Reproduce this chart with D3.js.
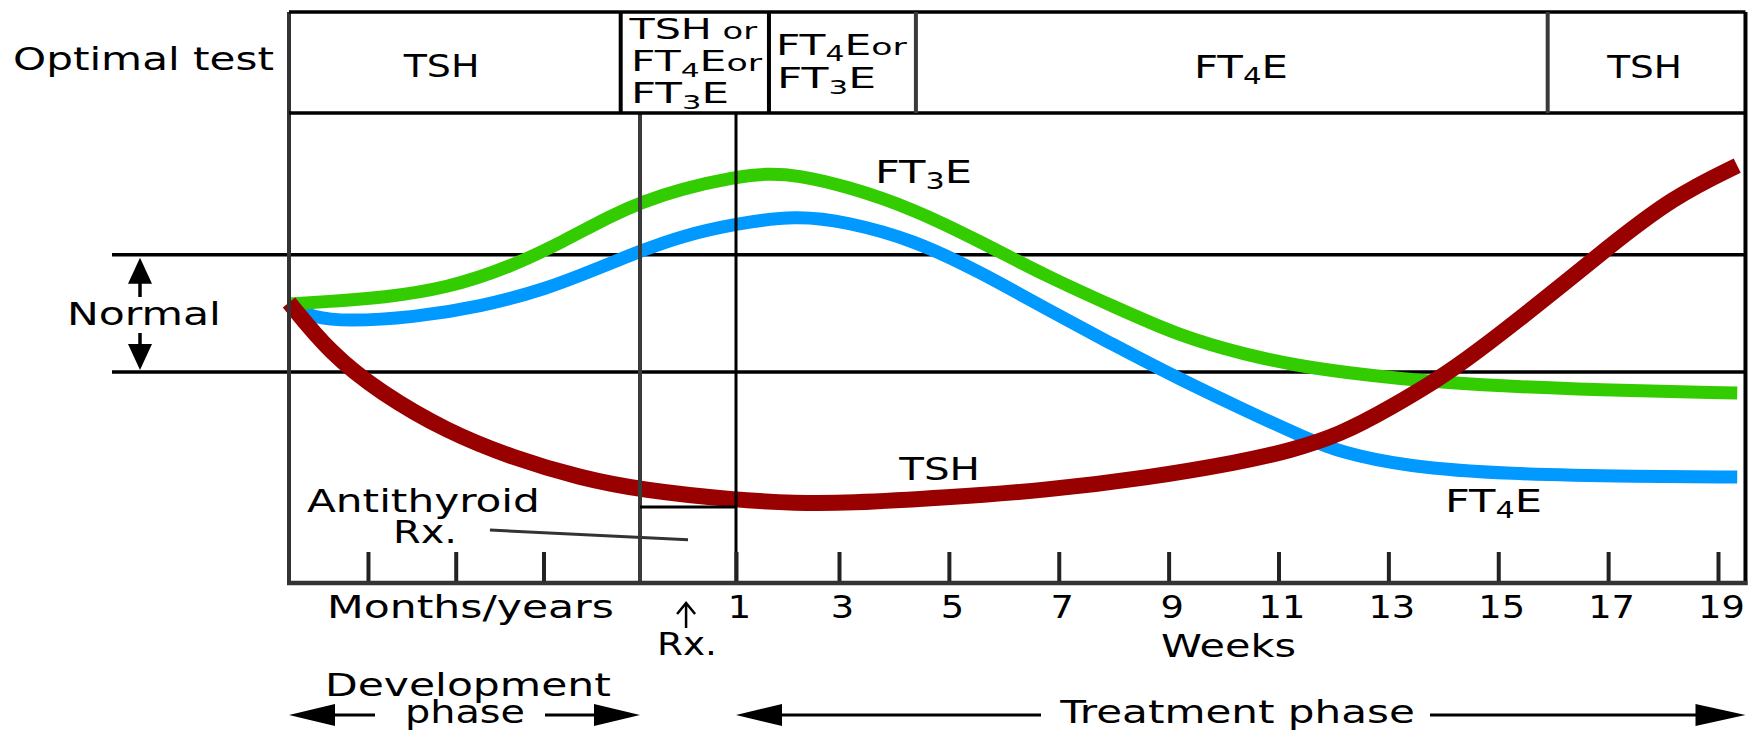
<!DOCTYPE html>
<html><head><meta charset="utf-8">
<script src="https://cdn.jsdelivr.net/npm/d3@7"></script>
<style>
html,body{margin:0;padding:0;background:#fff;}
svg{display:block;font-family:"DejaVu Sans",Verdana,sans-serif;}
</style>
</head><body>
<svg id="chart" width="1759" height="731"></svg>
<script>
// ---------------- DATA ----------------
// x in "weeks" units; negative values = development phase (months/years, compressed)
const weekTicks = [1, 3, 5, 7, 9, 11, 13, 15, 17, 19];
const devTicks = [-3.1, -2.1, -1.1];
const normalRange = [45, 70];
const optimalTestBounds = [-4, -0.22, 1.64, 4.4, 15.9, 19.5];
const optimalTestLabels = [["TSH"], ["TSH[ or]", "FT_4E[or]", "FT_3E"], ["FT_4E[or]", "FT_3E"], ["FT_4E"], ["TSH"]];
const ft3Series = [[-4,59.5],[-3.4,60.2],[-2.96,60.8],[-2.2,62.8],[-1.45,67.6],[-0.88,72.8],[-0.31,78.5],[0.02,81.2],[0.42,84.0],[0.99,86.6],[1.6,87.3],[2.18,87.0],[3.14,84.6],[4.35,79.8],[5.57,72.8],[6.78,65.4],[7.99,59.0],[9.21,52.6],[10.42,48.6],[11.33,46.4],[12.12,45.0],[13.94,42.6],[16.36,41.3],[19.35,40.5]];
const ft4Series = [[-4,59.1],[-3.73,56.6],[-3.34,55.8],[-2.59,56.6],[-1.82,58.9],[-1.06,62.7],[-0.49,67.0],[0.02,70.9],[0.42,73.9],[0.99,76.6],[2.18,78.4],[3.14,77.0],[4.35,73.2],[5.57,66.3],[6.78,58.4],[7.99,50.8],[9.21,43.4],[10.36,37.0],[11.51,30.8],[12.12,27.9],[13.33,24.8],[15.15,23.2],[17.58,22.7],[19.35,22.6]];
const tshSeries = [[-4,59.8],[-3.53,49.0],[-2.96,40.6],[-2.2,32.3],[-1.45,26.7],[-0.68,22.4],[0.02,19.8],[0.99,17.7],[2.18,17.0],[3.14,17.0],[4.96,18.2],[6.78,19.8],[8.6,22.4],[10.3,25.8],[11.21,28.2],[12.12,31.6],[13.03,37.3],[13.94,43.7],[14.54,48.6],[15.76,59.7],[16.98,71.4],[18.18,82.3],[19.35,89.0]];
const rxStartLevel = 16.2;   // TSH level marked at start of Rx

// ---------------- SCALES ----------------
const svg = d3.select('#chart');
const x = d3.scaleLinear().domain([-4, 0, 1, 3, 19]).range([289, 640, 736, 839, 1718]);
const y = d3.scaleLinear().domain([0, 100]).range([583, 114]);
const xEnd = 19.5;
const boxTop = 12, boxBottom = 113, axisY = y(0);
const FS = 32;

// rich text helper: "_4" -> subscript, "[..]" -> smaller text
function rich(textSel, str, fs) {
  const tokens = str.split(/(_\d|\[[^\]]*\])/).filter(s => s !== '');
  let shift = 0;
  tokens.forEach(t => {
    const ts = textSel.append('tspan');
    if (t.startsWith('_')) {
      const s = fs * 0.2;
      ts.text(t.slice(1)).attr('font-size', fs * 0.7).attr('dy', s - shift); shift = s;
    } else if (t.startsWith('[')) {
      ts.text(t.slice(1, -1)).attr('font-size', fs * 0.82).attr('dy', -shift); shift = 0;
    } else {
      ts.text(t).attr('font-size', fs).attr('dy', -shift); shift = 0;
    }
  });
}
function fitText(g, str, px, baseline, width, anchor, fs) {
  const t = g.append('text').attr('x', 0).attr('y', 0).attr('fill', '#000');
  rich(t, str, fs || FS);
  const bb = t.node().getBBox();
  const sx = width / bb.width;
  const left = anchor === 'middle' ? px - width / 2 : px;
  t.attr('transform', `translate(${left - bb.x * sx},${baseline}) scale(${sx},1)`);
  return t;
}

// ---------------- NORMAL RANGE LINES ----------------
svg.append('g').selectAll('line').data(normalRange).join('line')
  .attr('x1', 112).attr('x2', x(xEnd))
  .attr('y1', d => y(d)).attr('y2', d => y(d))
  .attr('stroke', '#000').attr('stroke-width', 3.5);

// ---------------- CURVES ----------------
const line = d3.line().x(d => x(d[0])).y(d => y(d[1])).curve(d3.curveBasis);
const seriesStyle = [['#0099ff', 13], ['#33cc00', 13], ['#990000', 16]];
svg.append('g').selectAll('path').data([ft4Series, ft3Series, tshSeries]).join('path')
  .attr('d', line).attr('fill', 'none')
  .attr('stroke', (d, i) => seriesStyle[i][0])
  .attr('stroke-width', (d, i) => seriesStyle[i][1]);

// ---------------- VERTICAL LINES / FRAME ----------------
const frame = svg.append('g');
frame.append('line').attr('x1', x(0)).attr('x2', x(0)).attr('y1', boxBottom).attr('y2', axisY)
  .attr('stroke', '#3a3a3a').attr('stroke-width', 4);
frame.append('line').attr('x1', x(1)).attr('x2', x(1)).attr('y1', boxBottom).attr('y2', axisY)
  .attr('stroke', '#000').attr('stroke-width', 3);
// TSH level at Rx marker
frame.append('line').attr('x1', x(0)).attr('x2', x(1)).attr('y1', y(rxStartLevel)).attr('y2', y(rxStartLevel))
  .attr('stroke', '#000').attr('stroke-width', 3);
// left & right borders
frame.append('line').attr('x1', x(-4)).attr('x2', x(-4)).attr('y1', boxTop).attr('y2', axisY + 2)
  .attr('stroke', '#333').attr('stroke-width', 4);
frame.append('line').attr('x1', x(xEnd)).attr('x2', x(xEnd)).attr('y1', boxTop).attr('y2', axisY + 2)
  .attr('stroke', '#000').attr('stroke-width', 4);

// ---------------- OPTIMAL TEST BOX ----------------
const box = svg.append('g');
[boxTop, boxBottom].forEach(yy => box.append('line').attr('x1', x(-4)).attr('x2', x(xEnd))
  .attr('y1', yy).attr('y2', yy).attr('stroke', '#000').attr('stroke-width', 3.5));
box.selectAll('line.div').data(optimalTestBounds.slice(1, -1)).join('line').attr('class', 'div')
  .attr('x1', d => x(d)).attr('x2', d => x(d)).attr('y1', boxTop).attr('y2', boxBottom)
  .attr('stroke', (d, i) => i < 2 ? '#000' : '#3a3a3a').attr('stroke-width', 4);
const cellLayout = [
  {anchor: 'middle', pos: [[441, 77, 77]], fs: FS},
  {anchor: 'start', pos: [[628, 39, 130], [631, 71, 132], [631, 103, 98]], fs: 28},
  {anchor: 'start', pos: [[776, 55, 131], [777, 88, 99]], fs: 29},
  {anchor: 'middle', pos: [[1241, 78, 94]], fs: FS},
  {anchor: 'middle', pos: [[1644, 78, 76]], fs: FS}
];
optimalTestLabels.forEach((lines, i) => {
  lines.forEach((s, j) => {
    const p = cellLayout[i].pos[j];
    fitText(box, s, p[0], p[1], p[2], cellLayout[i].anchor, cellLayout[i].fs);
  });
});
fitText(svg, 'Optimal test', 13, 70, 261, 'start');

// ---------------- AXES ----------------
const axisG = svg.append('g').attr('transform', `translate(0,${axisY})`);
const weekAxis = d3.axisBottom(x).tickValues(weekTicks).tickSizeInner(-31).tickSizeOuter(0).tickFormat(d3.format('d'));
axisG.append('g').call(weekAxis).call(g => {
  g.select('.domain').remove();
  g.selectAll('.tick line').attr('stroke', '#222').attr('stroke-width', 4);
  g.selectAll('.tick text').attr('y', 35).attr('dy', 0).attr('font-size', FS)
    .attr('font-family', '"DejaVu Sans",Verdana,sans-serif').attr('fill', '#000')
    .attr('transform', 'translate(3,0) scale(1.15,1)');
});
const devAxis = d3.axisBottom(x).tickValues(devTicks).tickSizeInner(-31).tickSizeOuter(0).tickFormat('');
axisG.append('g').call(devAxis).call(g => {
  g.select('.domain').remove();
  g.selectAll('.tick line').attr('stroke', '#222').attr('stroke-width', 4);
});
axisG.append('line').attr('x1', x(-4) - 2).attr('x2', x(xEnd) + 2).attr('y1', 0).attr('y2', 0)
  .attr('stroke', '#333').attr('stroke-width', 4.5);

// ---------------- LABELS ----------------
const lab = svg.append('g');
fitText(lab, 'FT_3E', 875, 183, 97, 'start');
fitText(lab, 'TSH', 898, 480, 82, 'start');
fitText(lab, 'FT_4E', 1445, 512, 97, 'start');
fitText(lab, 'Antithyroid', 307, 512, 233, 'start');
fitText(lab, 'Rx.', 393, 543, 64, 'start');
fitText(lab, 'Normal', 67, 325, 154, 'start');
fitText(lab, 'Months/years', 327, 618, 287, 'start');
fitText(lab, 'Rx.', 657, 655, 60, 'start');
fitText(lab, 'Weeks', 1161, 657, 135, 'start');
fitText(lab, 'Development', 325, 696, 286, 'start');
fitText(lab, 'phase', 405, 723, 120, 'start');
fitText(lab, 'Treatment phase', 1059, 723, 356, 'start');

// Antithyroid Rx pointer
lab.append('line').attr('x1', x(-1.71)).attr('y1', y(11.3)).attr('x2', x(0.5)).attr('y2', y(9.2))
  .attr('stroke', '#333').attr('stroke-width', 3);

// ---------------- ARROWS ----------------
const arr = svg.append('g');
function hArrow(x1, x2, yy, L, h) {
  const dir = Math.sign(x2 - x1);
  arr.append('line').attr('x1', x1).attr('x2', x2 - dir * L * 0.6).attr('y1', yy).attr('y2', yy)
    .attr('stroke', '#000').attr('stroke-width', 3);
  arr.append('path').attr('d', `M${x2},${yy}L${x2 - dir * L},${yy - h}L${x2 - dir * L},${yy + h}Z`).attr('fill', '#000');
}
function vArrow(y1, y2, xx, L, w) {
  const dir = Math.sign(y2 - y1);
  arr.append('line').attr('x1', xx).attr('x2', xx).attr('y1', y1).attr('y2', y2 - dir * L * 0.6)
    .attr('stroke', '#000').attr('stroke-width', 3.5);
  arr.append('path').attr('d', `M${xx},${y2}L${xx - w},${y2 - dir * L}L${xx + w},${y2 - dir * L}Z`).attr('fill', '#000');
}
const normalX = 140;
vArrow(297, y(normalRange[1]) + 3, normalX, 26, 12);
vArrow(333, y(normalRange[0]) - 2, normalX, 26, 12);
hArrow(375, x(-4), 715, 46, 11);
hArrow(545, x(0), 715, 46, 11);
hArrow(1041, x(1), 715, 46, 11);
hArrow(1430, x(xEnd), 715, 50, 11);
// small Rx arrow
const rxX = x(0.48);
arr.append('path').attr('d', `M${rxX},628L${rxX},604M${rxX - 9},614L${rxX},603L${rxX + 9},614`)
  .attr('fill', 'none').attr('stroke', '#000').attr('stroke-width', 2.5);
</script>
</body></html>
